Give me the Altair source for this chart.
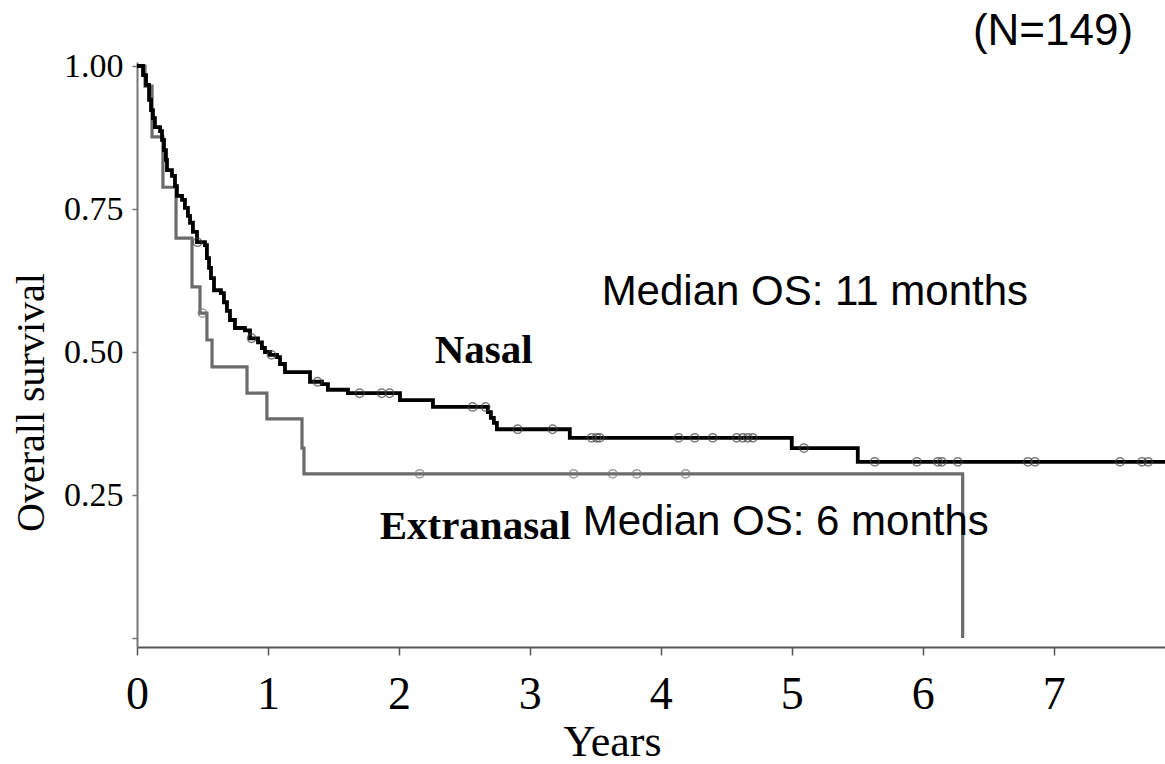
import altair as alt
import pandas as pd

# ---------------- data ----------------
nasal_years = [0, 0.046, 0.069, 0.092, 0.107, 0.122, 0.137, 0.176, 0.191, 0.206, 0.221, 0.229,
               0.267, 0.290, 0.305, 0.344, 0.366, 0.389, 0.405, 0.427, 0.458, 0.519, 0.534,
               0.550, 0.565, 0.588, 0.641, 0.664, 0.687, 0.710, 0.748, 0.824, 0.863, 0.924,
               0.954, 0.977, 1.015, 1.069, 1.092, 1.130, 1.321, 1.412, 1.458, 1.611, 2.008,
               2.260, 2.679, 2.702, 2.725, 2.748, 3.305, 5.000, 5.504, 7.85]
nasal_surv = [1.0, 0.984, 0.967, 0.941, 0.923, 0.909, 0.893, 0.886, 0.871, 0.853, 0.836, 0.818,
              0.808, 0.790, 0.773, 0.766, 0.752, 0.738, 0.726, 0.710, 0.692, 0.687, 0.664,
              0.647, 0.629, 0.608, 0.603, 0.587, 0.572, 0.556, 0.542, 0.538, 0.524, 0.517,
              0.507, 0.500, 0.495, 0.491, 0.479, 0.465, 0.448, 0.444, 0.434, 0.428, 0.416,
              0.404, 0.395, 0.385, 0.376, 0.365, 0.350, 0.332, 0.308, 0.308]

extra_years = [0, 0.061, 0.115, 0.198, 0.298, 0.420, 0.481, 0.534, 0.573, 0.840, 0.992,
               1.260, 1.275, 6.305]
extra_surv = [1.0, 0.965, 0.876, 0.788, 0.699, 0.614, 0.568, 0.521, 0.474, 0.428, 0.383,
              0.332, 0.287, 0.0]

nasal_censor_years = [0.462, 0.875, 1.027, 1.379, 1.700, 1.868, 1.929, 2.563, 2.662, 2.907,
                      3.174, 3.472, 3.510, 3.533, 4.136, 4.259, 4.396, 4.580, 4.626, 4.664,
                      4.702, 5.092, 5.634, 5.955, 6.115, 6.146, 6.268, 6.803, 6.857, 7.507,
                      7.675, 7.721]
extra_censor_years = [0.50, 2.158, 3.334, 3.632, 3.816, 4.190]

x_ticks = [0, 1, 2, 3, 4, 5, 6, 7]
y_ticks = [0, 0.25, 0.5, 0.75, 1.0]

x_domain = [0, 7.85]
y_domain = [-0.0157, 1.007]

sans_labels = ["(N=149)", "Median OS: 11 months", "Median OS: 6 months"]
sans_x = [6.383, 3.548, 3.403]
sans_y = [1.037, 0.582, 0.180]

serif_labels = ["Nasal", "Extranasal"]
serif_x = [2.273, 1.853]
serif_y = [0.481, 0.173]

assert len(nasal_years) == len(nasal_surv)
assert len(extra_years) == len(extra_surv)


def level_at(times, surv, t):
    s = surv[0]
    for ti, si in zip(times, surv):
        if ti <= t:
            s = si
        else:
            break
    return s


nasal_df = pd.DataFrame({"t": nasal_years, "S": nasal_surv})
extra_df = pd.DataFrame({"t": extra_years, "S": extra_surv})
nasal_c = pd.DataFrame({"t": nasal_censor_years,
                        "S": [level_at(nasal_years, nasal_surv, t) for t in nasal_censor_years]})
extra_c = pd.DataFrame({"t": extra_censor_years,
                        "S": [level_at(extra_years, extra_surv, t) for t in extra_censor_years]})
sans_df = pd.DataFrame({"label": sans_labels, "t": sans_x, "S": sans_y})
serif_df = pd.DataFrame({"label": serif_labels, "t": serif_x, "S": serif_y})

xs = alt.Scale(domain=x_domain, nice=False, zero=False)
ys = alt.Scale(domain=y_domain, nice=False, zero=False)

x_axis = alt.Axis(values=x_ticks, format="d", grid=False, tickSize=8, tickColor="#555",
                  domainColor="#555", domainWidth=2, tickWidth=1.5,
                  labelFont="Liberation Serif", labelFontSize=46, labelColor="black",
                  labelBaseline="alphabetic", labelPadding=53, labelFlush=False,
                  title="Years", titleFont="Liberation Serif", titleFontSize=44,
                  titleFontWeight="normal", titleColor="black",
                  titleX=475, titleY=108, titleAlign="center", titleBaseline="alphabetic")
y_axis = alt.Axis(values=y_ticks, grid=False, tickSize=5, tickColor="#777",
                  domainColor="#777", domainWidth=2, tickWidth=1.5,
                  labelExpr="datum.value == 0 ? '' : format(datum.value, '.2f')",
                  labelFont="Liberation Serif", labelFontSize=34, labelColor="black",
                  labelBaseline="middle", labelPadding=9, labelFlush=False,
                  title="Overall survival", titleFont="Liberation Serif", titleFontSize=40,
                  titleFontWeight="normal", titleColor="black",
                  titleX=-94, titleY=340, titleAlign="center", titleBaseline="alphabetic",
                  titleAngle=270)

X = alt.X("t:Q", scale=xs, axis=x_axis)
Y = alt.Y("S:Q", scale=ys, axis=y_axis)

extra_line = alt.Chart(extra_df).mark_line(
    interpolate="step-after", color="#6b6b6b", strokeWidth=3.2
).encode(x=X, y=Y)

nasal_line = alt.Chart(nasal_df).mark_line(
    interpolate="step-after", color="black", strokeWidth=3.8
).encode(x=X, y=Y)

extra_pts = alt.Chart(extra_c).mark_point(
    shape="circle", filled=False, size=70, color="#777", strokeWidth=1.5
).encode(x=X, y=Y)

nasal_pts = alt.Chart(nasal_c).mark_point(
    shape="circle", filled=False, size=70, color="#444", strokeWidth=1.5
).encode(x=X, y=Y)

sans_big = alt.Chart(sans_df.iloc[[0]]).mark_text(
    align="left", baseline="alphabetic", font="Liberation Sans", fontSize=44, color="black"
).encode(x=X, y=Y, text="label:N")

sans_med = alt.Chart(sans_df.iloc[1:]).mark_text(
    align="left", baseline="alphabetic", font="Liberation Sans", fontSize=42, color="black"
).encode(x=X, y=Y, text="label:N")

serif_txt = alt.Chart(serif_df).mark_text(
    align="left", baseline="alphabetic", font="Liberation Serif", fontSize=41,
    fontWeight="bold", color="black"
).encode(x=X, y=Y, text="label:N")

chart = alt.layer(
    extra_line, nasal_line, extra_pts, nasal_pts, sans_big, sans_med, serif_txt
).properties(
    width=1028, height=585,
    autosize=alt.AutoSizeParams(type="none"),
    padding={"left": 137, "top": 62, "right": 0, "bottom": 117},
    background="white",
).configure_view(stroke=None)

chart.save("out.html", embed_options={"renderer": "svg", "actions": False})
